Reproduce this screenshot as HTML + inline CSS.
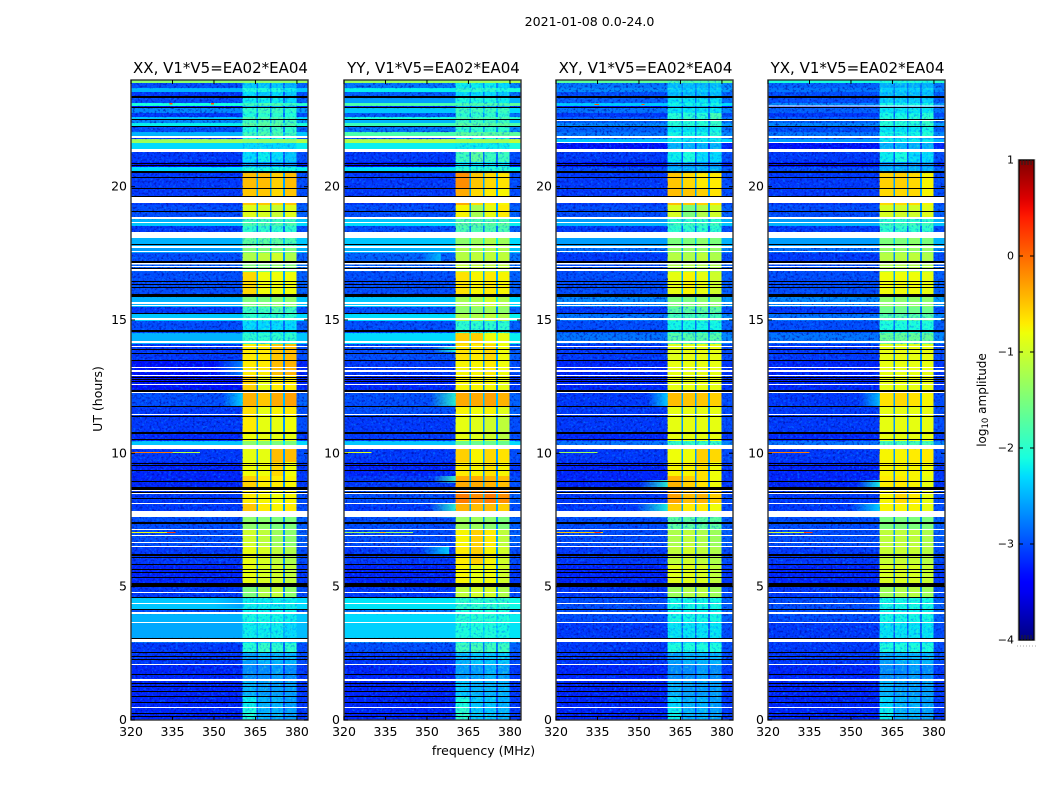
<!DOCTYPE html>
<html lang="en">
<head>
<meta charset="utf-8">
<title>2021-01-08 0.0-24.0</title>
<style>
html,body{margin:0;padding:0;background:#fff;width:1050px;height:800px;overflow:hidden}
svg{display:block}
text{font-family:"DejaVu Sans","Liberation Sans",sans-serif;fill:#000}
</style>
</head>
<body>
<svg id="chart" xmlns="http://www.w3.org/2000/svg" width="1050" height="800" viewBox="0 0 1050 800">
  <defs id="defs"></defs>
  <text x="589.5" y="26" font-size="12.6" text-anchor="middle">2021-01-08 0.0-24.0</text>
  <text x="483.5" y="755" font-size="12.5" text-anchor="middle">frequency (MHz)</text>
  <text transform="translate(102,399) rotate(-90)" font-size="12.5" text-anchor="middle">UT (hours)</text>
  <text transform="translate(986,400) rotate(-90)" font-size="12" text-anchor="middle">log<tspan font-size="8.5" dy="2">10</tspan><tspan dy="-2"> amplitude</tspan></text>
</svg>
<script>
// ---- axis data ----
const panelTitles = ["XX, V1*V5=EA02*EA04","YY, V1*V5=EA02*EA04","XY, V1*V5=EA02*EA04","YX, V1*V5=EA02*EA04"];
const freqTicks = [320,335,350,365,380];
const hourTicks = [0,5,10,15,20];
const colorTicks = [1,0,-1,-2,-3,-4];
const freqRange = [320,384];
const hourRange = [0,24];
const colorRange = [-4,1];
// receiver sub-band limits in MHz
const bandEdges = [[360.4,365.3],[365.9,370.2],[370.8,375],[375.7,379.9]];

// ---- time blocks: start hour (descending) of each block ----
const blockTops = [24,23.89,23.7,23.55,23.33,23.14,23.03,22.95,22.76,22.61,
22.5,22.39,22.24,22.05,21.9,21.79,21.64,21.41,21.3,20.93,
20.74,20.59,20.51,19.91,19.61,19.31,18.86,18.79,18.64,18.53,
18.3,18.08,17.78,17.51,17.14,16.8,15.86,15.49,15.23,14.96,
14.51,14.1,13.5,12.9,12.26,11.78,11.36,10.76,10.46,10.16,
9.68,9.15,8.66,8.14,7.61,7.13,6.53,5.85,5.14,4.58,
4.16,3.98,3.64,3.08,2.89,2.55,2.06,1.46,0.86,0.45];

// ---- log10 amplitude per block: [background, band1, band2, band3, band4] ----
const levelsXX = [
[-1.4,-1.4,-1.4,-1.4,-1.4],[-3,-2.4,-2.4,-2.4,-2.5],[-2.5,-2.1,-2.1,-2.1,-2.2],[-3.1,-2.3,-2.4,-2.3,-2.4],[-3,-2.2,-2.2,-2.2,-2.3],
[-2.1,-1.9,-1.8,-1.8,-1.9],[-3.3,-2.6,-2.6,-2.6,-2.6],[-2.7,-2,-1.9,-1.9,-2],[-3.1,-2.1,-2,-2,-2.1],[-2.4,-1.8,-1.8,-1.8,-1.9],
[-2.7,-1.9,-1.8,-1.8,-1.9],[-2.2,-1.7,-1.7,-1.7,-1.8],[-3,-2.1,-1.9,-1.9,-2],[-2.5,-1.9,-1.8,-1.8,-1.9],[-3.1,-2.2,-2.2,-2.2,-2.2],
[-1.3,-1.4,-1.4,-1.4,-1.4],[-2.3,-2.3,-2.3,-2.3,-2.3],[-2.3,-2.3,-2.3,-2.3,-2.3],[-3.1,-2.3,-2.2,-2.3,-2.4],[-3.3,-2.7,-2.7,-2.7,-2.7],
[-2.3,-2.1,-2.1,-2.1,-2.1],[-3.5,-2.9,-2.9,-2.9,-2.9],[-3.1,-0.45,-0.45,-0.55,-0.45],[-3.1,-0.5,-0.5,-0.6,-0.5],[-3.1,-0.5,-0.5,-0.6,-0.5],
[-3,-0.9,-0.95,-1.05,-0.9],[-3,-0.9,-0.95,-1.05,-0.9],[-2.5,-1.9,-1.9,-1.9,-1.9],[-2.4,-1.8,-1.8,-1.8,-1.8],[-3.1,-2,-2,-2,-2],
[-2.5,-1.7,-1.7,-1.7,-1.7],[-2.5,-1.7,-1.7,-1.7,-1.8],[-2.6,-1.5,-1.5,-1.5,-1.5],[-3,-1.2,-1.1,-1,-1.2],[-2.9,-1.5,-1.5,-1.4,-1.5],
[-3,-0.6,-0.8,-0.8,-0.8],[-2.5,-1.5,-1.5,-1.4,-1.4],[-3.1,-1.9,-1.9,-1.8,-1.9],[-2.4,-2,-2,-2,-2],[-3,-2.3,-2.3,-2.3,-2.3],
[-2.5,-2,-2,-2,-2],[-3.1,-0.7,-0.7,-0.5,-0.45],[-3.3,-0.7,-0.7,-0.45,-0.4],[-3.3,-0.55,-0.85,-0.7,-0.7],[-3,-0.4,-0.5,-0.35,-0.3],
[-3.1,-0.65,-0.85,-0.75,-0.7],[-3.1,-0.7,-0.85,-0.85,-0.8],[-3.2,-0.8,-0.85,-0.85,-0.85],[-2.4,-1.4,-1.4,-1.5,-1.5],[-3.1,-0.85,-0.85,-0.45,-0.45],
[-3.2,-0.8,-0.8,-0.6,-0.8],[-3.2,-0.55,-0.7,-0.7,-0.75],[-3.1,-0.7,-0.75,-0.8,-0.75],[-3.1,-0.5,-0.7,-0.75,-0.7],[-3,-1.4,-1.4,-1.5,-1.5],
[-3,-1,-1.1,-1.3,-1.4],[-3.1,-0.85,-0.95,-1.1,-1.2],[-3.2,-0.85,-0.95,-1,-1.1],[-3.1,-1.5,-1.2,-1.1,-1.4],[-2.4,-2.2,-2.2,-2.2,-2.2],
[-3,-2.2,-2.2,-2.2,-2.2],[-2.5,-2.15,-2.15,-2.15,-2.2],[-2.55,-2.2,-2.2,-2.2,-2.3],[-2.8,-2.3,-2.3,-2.3,-2.3],[-3.1,-2.05,-1.95,-2,-2],
[-3.1,-2.6,-2.5,-2.5,-2.5],[-3.2,-2.7,-2.7,-2.6,-2.7],[-3.2,-2.5,-2.6,-2.6,-2.6],[-3.2,-2.2,-2.5,-2.5,-2.6],[-3.2,-2.1,-2.5,-2.5,-2.6]];
const levelsYY = [
[-1.3,-1.3,-1.3,-1.3,-1.3],[-2.8,-2.2,-2.2,-2.2,-2.3],[-2.2,-2,-2,-2,-2.1],[-2.9,-2.3,-2.3,-2.3,-2.4],[-2.6,-2.1,-2.1,-2.1,-2.2],
[-1.8,-1.8,-1.8,-1.8,-1.8],[-3.2,-2.6,-2.6,-2.6,-2.6],[-2.4,-1.9,-1.9,-1.9,-1.9],[-2.9,-2,-2,-2,-2],[-2.1,-1.8,-1.8,-1.8,-1.8],
[-2.5,-1.9,-1.9,-1.9,-1.9],[-1.9,-1.7,-1.7,-1.7,-1.7],[-2.8,-2,-2,-2,-2],[-1.8,-1.7,-1.7,-1.7,-1.7],[-3,-2.2,-2.2,-2.2,-2.2],
[-1.2,-1.3,-1.3,-1.3,-1.3],[-2.2,-2.2,-2.2,-2.2,-2.2],[-2.2,-2.2,-2.2,-2.2,-2.2],[-3.1,-1.9,-1.7,-1.9,-1.9],[-3.3,-2.3,-2.3,-2.3,-2.3],
[-2.3,-2,-2,-2,-2],[-3.5,-2.9,-2.9,-2.9,-2.9],[-3.1,-0.2,-0.5,-0.6,-0.65],[-3.1,-0.35,-0.6,-0.7,-0.75],[-3.1,-0.35,-0.6,-0.7,-0.75],
[-3,-0.75,-1.25,-0.85,-0.7],[-3,-0.75,-1.25,-0.85,-0.7],[-2.4,-1.8,-1.8,-1.8,-1.8],[-2.3,-1.7,-1.7,-1.7,-1.7],[-3,-1.8,-1.8,-1.8,-1.8],
[-2.4,-1.4,-1.3,-1.2,-1.3],[-2.4,-1.4,-1.3,-1.2,-1.3],[-2.5,-1.2,-1.2,-1.2,-1.2],[-2.9,-1.15,-1.1,-1.1,-1.1],[-2.9,-1.1,-1.1,-1.1,-1.1],
[-3,-0.65,-0.75,-0.7,-0.75],[-2.4,-1.25,-1.2,-1,-1.2],[-3,-1.4,-1.4,-1.3,-1.4],[-2.3,-1.2,-1.2,-1.1,-1.2],[-3,-2,-2,-2,-2],
[-2.3,-0.55,-0.55,-0.8,-0.85],[-3,-0.65,-0.7,-0.6,-0.8],[-3.1,-0.75,-0.75,-0.7,-0.8],[-3.2,-0.75,-0.75,-0.75,-0.85],[-3,-0.35,-0.35,-0.3,-0.4],
[-3,-0.75,-0.8,-0.75,-0.9],[-3.1,-0.85,-0.9,-1,-1.1],[-3.1,-0.85,-0.9,-1,-1.15],[-2.4,-1.6,-1.6,-1.6,-1.6],[-3.1,-0.55,-0.75,-0.6,-0.65],
[-3.2,-0.7,-0.75,-0.65,-0.75],[-3.1,-0.35,-0.35,-0.4,-0.45],[-3,-0.1,-0.2,-0.1,-0.2],[-3.1,-0.4,-0.45,-0.45,-0.55],[-3,-1.3,-1.3,-1.4,-1.5],
[-3,-0.75,-0.55,-0.7,-1.1],[-3.1,-0.7,-0.55,-0.75,-1],[-3.2,-0.75,-0.85,-0.8,-1],[-3.1,-1.1,-1,-1,-1.2],[-2.25,-2,-2,-2,-2],
[-2.8,-2.1,-2.1,-2.1,-2.1],[-2.3,-2.05,-2.05,-2.05,-2.1],[-2.35,-2.1,-2.1,-2.1,-2.15],[-2.7,-2.2,-2.2,-2.2,-2.2],[-3,-1.9,-1.85,-1.9,-1.9],
[-3.1,-2.5,-2.4,-2.4,-2.4],[-3.2,-2.6,-2.6,-2.5,-2.6],[-3.2,-2.4,-2.5,-2.5,-2.5],[-3.2,-2.1,-2.4,-2.4,-2.5],[-3.2,-2,-2.4,-2.4,-2.5]];
const levelsXY = [
[-1.7,-1.8,-1.8,-1.8,-1.8],[-2.8,-2.45,-2.45,-2.45,-2.45],[-2.7,-2.35,-2.35,-2.35,-2.35],[-3,-2.45,-2.45,-2.45,-2.45],[-2.9,-2.25,-2.25,-2.25,-2.25],
[-2.4,-2.15,-2.15,-2.15,-2.15],[-3.3,-2.6,-2.6,-2.6,-2.6],[-2.8,-2.25,-2.25,-2.25,-2.25],[-3.1,-2.05,-2.05,-2.05,-1.85],[-2.9,-2.05,-1.95,-2.05,-1.85],
[-2.9,-2.05,-2.05,-2.05,-1.95],[-2.7,-2.05,-2.05,-2.05,-1.95],[-2.9,-2.25,-2.25,-2.25,-2.15],[-2.8,-2.15,-2.15,-2.15,-2.05],[-2.9,-2.35,-2.35,-2.35,-2.35],
[-2.4,-2.2,-2.2,-2.2,-2.2],[-3.3,-2.5,-2.5,-2.5,-2.5],[-3.2,-2.4,-2.4,-2.4,-2.4],[-3.1,-2.2,-2.1,-2.3,-2.3],[-3.3,-2.7,-2.7,-2.7,-2.7],
[-3,-2.5,-2.5,-2.5,-2.5],[-3.6,-3,-3,-3,-3],[-3.1,-0.5,-0.6,-0.7,-0.7],[-3.1,-0.45,-0.5,-0.55,-0.65],[-3.1,-0.45,-0.5,-0.55,-0.65],
[-3,-0.95,-1.5,-1.2,-1],[-3,-0.95,-1.5,-1.2,-1],[-2.6,-2,-2,-2,-2],[-2.5,-1.9,-1.9,-1.9,-1.9],[-3.1,-2,-2,-2,-2],
[-2.6,-1.5,-1.5,-1.4,-1.5],[-2.6,-1.5,-1.5,-1.4,-1.5],[-2.8,-1.35,-1.35,-1.35,-1.35],[-3.1,-1.15,-1.2,-1.1,-1.2],[-3,-1.2,-1.2,-1.2,-1.2],
[-3,-0.85,-0.75,-0.85,-1],[-2.7,-1.5,-1.5,-1.4,-1.4],[-3.1,-1.7,-1.7,-1.7,-1.7],[-2.8,-1.85,-1.85,-1.85,-1.85],[-3,-2.15,-2.15,-2.15,-2.15],
[-2.8,-1.75,-1.75,-1.75,-1.75],[-3.1,-0.9,-0.85,-0.85,-0.85],[-3.2,-0.85,-0.85,-0.85,-0.85],[-3.2,-0.85,-0.85,-0.85,-0.85],[-3.1,-0.45,-0.5,-0.5,-0.55],
[-3.1,-0.85,-0.85,-0.85,-0.85],[-3.1,-0.85,-0.85,-0.85,-0.85],[-3.2,-0.85,-0.85,-0.85,-0.85],[-2.8,-1.95,-1.95,-1.95,-1.95],[-3.1,-0.8,-0.8,-0.55,-0.6],
[-3.2,-0.75,-0.75,-0.65,-0.8],[-3.2,-0.4,-0.55,-0.65,-0.8],[-3.1,-0.3,-0.45,-0.4,-0.55],[-3.1,-0.55,-0.7,-0.7,-0.8],[-3,-1.7,-1.7,-1.7,-1.7],
[-3,-1.2,-1.1,-1.2,-1.3],[-3.1,-1.1,-1,-1.1,-1.2],[-3.2,-0.9,-0.9,-0.95,-1.1],[-3.1,-1.3,-1.2,-1.15,-1.3],[-3,-2.15,-2.15,-2.15,-2.15],
[-3,-2.2,-2.2,-2.2,-2.2],[-3,-2.15,-2.15,-2.15,-2.15],[-3.1,-2.25,-2.25,-2.25,-2.25],[-3.1,-2.35,-2.35,-2.35,-2.35],[-3.1,-2.1,-2.1,-2.1,-2.1],
[-3.1,-2.6,-2.5,-2.5,-2.5],[-3.2,-2.7,-2.7,-2.6,-2.7],[-3.2,-2.5,-2.6,-2.6,-2.6],[-3.2,-2.3,-2.5,-2.5,-2.6],[-3.2,-2.2,-2.5,-2.5,-2.6]];
const levelsYX = [
[-2.1,-2.1,-2.1,-2.1,-2.1],[-2.9,-2.5,-2.5,-2.5,-2.5],[-2.8,-2.35,-2.35,-2.35,-2.35],[-3,-2.45,-2.45,-2.45,-2.45],[-3,-2.35,-2.35,-2.35,-2.35],
[-2.7,-2.15,-2.15,-2.15,-2.15],[-3.3,-2.6,-2.6,-2.6,-2.6],[-2.9,-2.25,-2.25,-2.25,-2.25],[-3.1,-2.15,-2.15,-2.15,-2.05],[-2.9,-2.05,-2.05,-2.05,-1.95],
[-2.9,-2.05,-2.05,-2.05,-1.95],[-2.7,-2.05,-2.05,-2.05,-1.95],[-3,-2.25,-2.25,-2.25,-2.15],[-2.8,-2.15,-2.15,-2.15,-2.05],[-3,-2.35,-2.35,-2.35,-2.35],
[-2.6,-2.2,-2.2,-2.2,-2.2],[-3.3,-2.5,-2.5,-2.5,-2.5],[-3.2,-2.4,-2.4,-2.4,-2.4],[-3.1,-2.2,-2.1,-2.3,-2.3],[-3.3,-2.7,-2.7,-2.7,-2.7],
[-3,-2.5,-2.5,-2.5,-2.5],[-3.6,-3,-3,-3,-3],[-3.1,-0.55,-0.55,-0.6,-0.75],[-3.1,-0.6,-0.6,-0.6,-0.75],[-3.1,-0.6,-0.6,-0.6,-0.75],
[-3,-0.95,-1,-1,-0.9],[-3,-0.95,-1,-1,-0.9],[-2.6,-2,-2,-2,-2],[-2.5,-1.9,-1.9,-1.9,-1.9],[-3.1,-2,-2,-2,-2],
[-2.6,-1.5,-1.5,-1.4,-1.5],[-2.6,-1.5,-1.5,-1.4,-1.5],[-2.8,-1.35,-1.35,-1.35,-1.35],[-3.1,-1.15,-1.15,-1.1,-1.2],[-3,-1.2,-1.2,-1.2,-1.2],
[-3,-0.8,-0.8,-0.8,-0.85],[-2.7,-1.4,-1.4,-1.4,-1.4],[-3.1,-1.6,-1.6,-1.6,-1.6],[-2.8,-1.75,-1.75,-1.75,-1.75],[-3,-2.1,-2.1,-2.1,-2.1],
[-2.8,-1.65,-1.65,-1.65,-1.65],[-3.1,-0.85,-0.85,-0.85,-0.85],[-3.2,-0.85,-0.85,-0.85,-0.85],[-3.2,-0.85,-0.85,-0.85,-0.85],[-3.1,-0.65,-0.6,-0.65,-0.75],
[-3.1,-0.85,-0.85,-0.85,-0.85],[-3.1,-0.85,-0.85,-0.85,-0.85],[-3.2,-0.85,-0.85,-0.85,-0.85],[-2.8,-1.85,-1.85,-1.85,-1.85],[-3.1,-0.75,-0.75,-0.7,-0.7],
[-3.2,-0.75,-0.75,-0.75,-0.8],[-3.2,-0.7,-0.7,-0.75,-0.85],[-3.1,-0.75,-0.6,-0.7,-0.85],[-3.1,-0.75,-0.75,-0.75,-0.85],[-3,-1.5,-1.5,-1.5,-1.5],
[-3,-1.1,-1.1,-1.1,-1.2],[-3.1,-1.05,-1.05,-1.05,-1.15],[-3.2,-0.95,-0.95,-0.95,-1.05],[-3.1,-1.3,-1.2,-1.15,-1.3],[-3,-2.15,-2.15,-2.15,-2.15],
[-3,-2.2,-2.2,-2.2,-2.2],[-3,-2.15,-2.15,-2.15,-2.15],[-3.1,-2.25,-2.25,-2.25,-2.25],[-3.1,-2.35,-2.35,-2.35,-2.35],[-3.1,-2.1,-2.1,-2.1,-2.1],
[-3.1,-2.6,-2.5,-2.5,-2.5],[-3.2,-2.7,-2.7,-2.6,-2.7],[-3.2,-2.5,-2.6,-2.6,-2.6],[-3.2,-2.3,-2.5,-2.5,-2.6],[-3.2,-2.2,-2.5,-2.5,-2.6]];

// ---- rows flagged blank: [start hour, duration hours] ----
const flaggedRows = [[21.9,.08],[21.41,.11],[19.61,.23],[18.86,.08],[18.68,.04],[18.3,.23],[17.78,.08],[17.59,.04],[17.14,.06],[17.03,.04],
[16.91,.08],[15.68,.08],[15.56,.04],[15.08,.08],[14.21,.08],[14.03,.04],[13.24,.04],[13.13,.08],[12.94,.04],[12.6,.04],[12.3,.04],[11.48,.04],
[10.31,.15],[8.63,.04],[8.51,.04],[8.14,.04],[7.84,.23],[7.16,.04],[6.94,.04],[6.68,.04],[6.53,.04],[4.8,.04],[4.39,.04],[4.05,.08],[3.68,.04],
[3.04,.11],[2.1,.04],[1.54,.08],[.49,.04]];
const extraFlaggedXY = [[22.5,.04],[21.68,.04]];
const extraFlaggedYX = [[22.5,.04],[23.04,.04],[21.68,.04]];
// ---- rows with zero amplitude, start hour (one row = 0.0375 h) ----
const zeroRows = [23.4,23.36,22.99,22.54,22.28,20.89,20.81,20.59,20.55,20.36,19.95,19.65,19.09,17.85,17.21,17.18,16.95,16.46,16.35,16.24,
15.98,15.94,15.9,15.26,14.63,14.59,13.91,13.76,13.5,12.86,12.79,12.71,12.38,12.34,11.78,11.4,10.8,10.76,10.54,9.64,9.56,9.38,8.96,8.74,8.7,8.66,8.55,8.33,
7.43,7.39,6.23,6.19,6.11,5.85,5.66,5.55,5.36,5.14,5.1,5.06,5.03,4.61,4.16,3.08,2.55,2.4,2.29,1.73,1.39,1.28,1.09,.9,.68,.26,.15];

// ---- narrow-band interference: [hour, start MHz, end MHz, level] ----
const spikesXX = [[10.05,320,335,-.1],[10.05,335,345,-1.1],[7.05,320,335,-.8],[7.05,333,336,.2],[23.13,334,335,.1],[23.13,349,350,.1]];
const spikesYY = [[10.05,320,330,-.9],[7.05,320,345,-1.3],[7.05,333,335,-.5]];
const spikesXY = [[10.05,321,335,-1.3],[7.05,320,337,-.5],[7.05,334,336,.3],[23.1,334,335.5,.1],[23.1,351,352,.1]];
const spikesYX = [[10.05,320,335,-.1],[7.05,320,334,-1],[7.05,333,336,.2]];
// ---- soft emission next to the bands: [start hour, end hour, start MHz, end MHz, level] ----
const glowsXX = [[12.26,11.78,353,360.4,-2.3],[13.5,12.9,350,360.4,-2.7],[4.58,4.2,350,360.4,-2.6]];
const glowsYY = [[12.26,11.78,351,360.4,-2],[8.14,7.6,351,360.4,-2],[9.15,8.9,352,360.4,-1.9],[17.5,17.2,348,355,-2.4],[6.5,6.2,348,358,-2.3],[14,13.8,352,360.4,-2.1]];
const glowsXY = [[12.26,11.78,353,360.4,-2.3],[8.14,7.6,349,360.4,-2.1],[9,8.7,350,360.4,-2]];
const glowsYX = [[12.26,11.78,353,360.4,-2.4],[8.14,7.6,350,360.4,-2.3],[9,8.7,352,360.4,-2.1]];

const panelLevels = [levelsXX,levelsYY,levelsXY,levelsYX];
const panelSpikes = [spikesXX,spikesYY,spikesXY,spikesYX];
const panelGlows = [glowsXX,glowsYY,glowsXY,glowsYX];
const panelExtraFlags = [[],[],extraFlaggedXY,extraFlaggedYX];
const panelNames = ["xx","yy","xy","yx"];
const panelLeft = [131,344,556,768];

// ---- scales ----
const NS = "http://www.w3.org/2000/svg";
const svg = document.getElementById("chart");
const defs = document.getElementById("defs");
const plotW = 177, plotTop = 80, plotBottom = 720;
function xScale(left, mhz){ return left + (mhz-freqRange[0])/(freqRange[1]-freqRange[0])*plotW; }
function yScale(h){ return plotBottom - (h-hourRange[0])/(hourRange[1]-hourRange[0])*(plotBottom-plotTop); }
function seg(f,pts){ for(let i=1;i<pts.length;i++){ if(f<=pts[i][0]){ const a=pts[i-1],b=pts[i]; return a[1]+(f-a[0])/(b[0]-a[0])*(b[1]-a[1]); } } return pts[pts.length-1][1]; }
function jet(v){
  const f=Math.max(0,Math.min(1,(v-colorRange[0])/(colorRange[1]-colorRange[0])));
  const r=seg(f,[[0,0],[.35,0],[.66,1],[.89,1],[1,.5]]);
  const g=seg(f,[[0,0],[.125,0],[.375,1],[.64,1],[.91,0],[1,0]]);
  const b=seg(f,[[0,.5],[.11,1],[.34,1],[.65,0],[1,0]]);
  return "rgb("+Math.round(r*255)+","+Math.round(g*255)+","+Math.round(b*255)+")";
}
function rect(parent,name,x,y,w,h,fill){
  const el=document.createElementNS(NS,"rect");
  
  
  el.setAttribute("x",x); el.setAttribute("y",y); el.setAttribute("width",w); el.setAttribute("height",h);
  el.setAttribute("fill",fill);
  parent.appendChild(el);
  return el;
}
function line(parent,name,x1,y1,x2,y2,stroke,sw){
  const el=document.createElementNS(NS,"line");
  
  
  el.setAttribute("x1",x1); el.setAttribute("y1",y1); el.setAttribute("x2",x2); el.setAttribute("y2",y2);
  el.setAttribute("stroke",stroke); el.setAttribute("stroke-width",sw);
  parent.appendChild(el);
  return el;
}
function label(parent,name,x,y,str,size,anchor){
  const el=document.createElementNS(NS,"text");
  
  
  el.setAttribute("x",x); el.setAttribute("y",y); el.setAttribute("font-size",size); el.setAttribute("text-anchor",anchor);
  el.textContent=str;
  parent.appendChild(el);
  return el;
}
function group(parent,name){
  const el=document.createElementNS(NS,"g");
  
  
  parent.appendChild(el);
  return el;
}

// receiver-noise texture (visual grain only, values come from the arrays above)
function addGrain(id,seed,matrix){
  const f=document.createElementNS(NS,"filter");
  f.setAttribute("id",id); f.setAttribute("x","0"); f.setAttribute("y","0"); f.setAttribute("width","1"); f.setAttribute("height","1");
  f.setAttribute("color-interpolation-filters","sRGB");
  const t=document.createElementNS(NS,"feTurbulence");
  t.setAttribute("type","fractalNoise"); t.setAttribute("baseFrequency","0.42"); t.setAttribute("numOctaves","2"); t.setAttribute("seed",seed);
  const m=document.createElementNS(NS,"feColorMatrix");
  m.setAttribute("type","matrix"); m.setAttribute("values",matrix);
  f.appendChild(t); f.appendChild(m); defs.appendChild(f);
}
function grainRect(parent,name,clipId,filterId,x,w,opacity){
  const wrap=group(parent,name+"-clip");
  wrap.setAttribute("clip-path","url(#"+clipId+")");
  const r=rect(wrap,name,x,plotTop,w,plotBottom-plotTop,"#000");
  r.setAttribute("filter","url(#"+filterId+")");
  r.setAttribute("opacity",opacity);
}

panelTitles.forEach(function(title,p){
  const left=panelLeft[p], levels=panelLevels[p], nm=panelNames[p];
  const g=group(svg,"panel-"+nm);
  const cells=group(g,"heatmap-"+nm);
  cells.setAttribute("shape-rendering","crispEdges");
  const clipBg=document.createElementNS(NS,"clipPath");
  clipBg.setAttribute("id","clip-bg-"+nm);
  const clipBand=document.createElementNS(NS,"clipPath");
  clipBand.setAttribute("id","clip-band-"+nm);
  levels.forEach(function(lv,i){
    const yTop=yScale(blockTops[i]);
    const yBot=i+1<blockTops.length?yScale(blockTops[i+1]):plotBottom;
    const h=yBot-yTop+.3;
    const bg=lv[0];
    rect(cells,"heatmap-cell",left,yTop,plotW,h,jet(bg));
    const mean=(lv[1]+lv[2]+lv[3]+lv[4])/4;
    const gapLevel=bg+.2*(mean-bg);
    rect(cells,"heatmap-cell",xScale(left,bandEdges[0][1]),yTop,xScale(left,bandEdges[3][1])-xScale(left,bandEdges[0][1]),h,jet(gapLevel));
    rect(cells,"heatmap-cell",xScale(left,bandEdges[3][1]),yTop,xScale(left,freqRange[1])-xScale(left,bandEdges[3][1]),h,jet(bg+.1));
    bandEdges.forEach(function(b,k){
      rect(cells,"heatmap-cell",xScale(left,b[0]),yTop,xScale(left,b[1])-xScale(left,b[0]),h,jet(lv[k+1]));
    });
    if(bg<-2.6){
      const c=document.createElementNS(NS,"rect");
      c.setAttribute("x",left); c.setAttribute("y",yTop); c.setAttribute("width",plotW); c.setAttribute("height",h);
      clipBg.appendChild(c);
    }
    if(mean<-1.6){
      const c=document.createElementNS(NS,"rect");
      c.setAttribute("x",left); c.setAttribute("y",yTop); c.setAttribute("width",plotW); c.setAttribute("height",h);
      clipBand.appendChild(c);
    }
  });
  defs.appendChild(clipBg);
  defs.appendChild(clipBand);
  // grain
  const lightId="grain-light-"+nm, darkId="grain-dark-"+nm, bandLightId="grain-band-light-"+nm, bandDarkId="grain-band-dark-"+nm;
  addGrain(lightId,p*3+2,"0 0 0 0 0  0 0 0 0 .55  0 0 0 0 1  3.5 0 0 0 -1.85");
  addGrain(darkId,p*3+5,"0 0 0 0 0  0 0 0 0 .05  0 0 0 0 .65  3.5 0 0 0 -1.75");
  addGrain(bandLightId,p*3+7,"0 0 0 0 .35  0 0 0 0 1  0 0 0 0 .65  3.5 0 0 0 -1.85");
  addGrain(bandDarkId,p*3+9,"0 0 0 0 0  0 0 0 0 .4  0 0 0 0 1  3.5 0 0 0 -1.75");
  const grain=group(g,"noise-grain-"+nm);
  const bgW=xScale(left,bandEdges[0][0])-left;
  const bandX=xScale(left,bandEdges[0][0]), bandW=xScale(left,bandEdges[3][1])-bandX;
  const rightX=xScale(left,bandEdges[3][1]), rightW=xScale(left,freqRange[1])-rightX;
  grainRect(grain,"noise-grain-light","clip-bg-"+nm,lightId,left,bgW,".6");
  grainRect(grain,"noise-grain-dark","clip-bg-"+nm,darkId,left,bgW,".7");
  grainRect(grain,"noise-grain-right","clip-bg-"+nm,lightId,rightX,rightW,".5");
  grainRect(grain,"noise-grain-right-dark","clip-bg-"+nm,darkId,rightX,rightW,".6");
  grainRect(grain,"noise-grain-band-light","clip-band-"+nm,bandLightId,bandX,bandW,".45");
  grainRect(grain,"noise-grain-band-dark","clip-band-"+nm,bandDarkId,bandX,bandW,".5");
  // glows fading in toward the band
  panelGlows[p].forEach(function(s,i){
    const gid="glow-"+nm+"-"+i;
    const lg=document.createElementNS(NS,"linearGradient");
    lg.setAttribute("id",gid);
    const s0=document.createElementNS(NS,"stop");
    s0.setAttribute("offset","0"); s0.setAttribute("stop-color",jet(s[4])); s0.setAttribute("stop-opacity","0");
    const s1=document.createElementNS(NS,"stop");
    s1.setAttribute("offset","1"); s1.setAttribute("stop-color",jet(s[4])); s1.setAttribute("stop-opacity",".9");
    lg.appendChild(s0); lg.appendChild(s1); defs.appendChild(lg);
    rect(g,"glow-"+nm,xScale(left,s[2]),yScale(s[0]),xScale(left,s[3])-xScale(left,s[2]),yScale(s[1])-yScale(s[0]),"url(#"+gid+")");
  });
  // spikes, zero rows, flagged rows
  const rows=group(g,"row-overlays-"+nm);
  rows.setAttribute("shape-rendering","crispEdges");
  panelSpikes[p].forEach(function(s){
    rect(rows,"interference-line",xScale(left,s[1]),yScale(s[0]),xScale(left,s[2])-xScale(left,s[1]),1.2,jet(s[3]));
  });
  zeroRows.forEach(function(h){
    rect(rows,"zero-row",left,yScale(h),plotW,1,"#000");
  });
  flaggedRows.concat(panelExtraFlags[p]).forEach(function(r){
    rect(rows,"flagged-row",left,yScale(r[0]),plotW,r[1]*(plotBottom-plotTop)/24,"#fff");
  });
  // frame
  const frame=rect(g,"plot-frame-"+nm,left,plotTop,plotW,plotBottom-plotTop,"none");
  frame.setAttribute("stroke","#333");
  frame.setAttribute("stroke-width","1.4");
  // ticks
  freqTicks.forEach(function(f){
    const x=xScale(left,f);
    line(g,"x-tick",x,plotBottom,x,plotBottom-4,"#000",1);
    line(g,"x-tick",x,plotTop,x,plotTop+4,"#000",1);
    label(g,"x-tick-label",x,736,String(f),12.5,"middle");
  });
  hourTicks.forEach(function(h){
    const y=yScale(h);
    line(g,"y-tick",left,y,left+4,y,"#000",1);
    line(g,"y-tick",left+plotW,y,left+plotW-4,y,"#000",1);
    label(g,"y-tick-label",left-4,y+4,String(h),12.5,"end");
  });
  label(g,"panel-title-"+nm,left+89.5,73,title,15,"middle");
});

// ---- colour bar ----
const cbX=1019, cbW=15, cbTop=160, cbBottom=640;
function cbY(v){ return cbBottom-(v-colorRange[0])/(colorRange[1]-colorRange[0])*(cbBottom-cbTop); }
const grad=document.createElementNS(NS,"linearGradient");
grad.setAttribute("id","jet-grad"); grad.setAttribute("x1","0"); grad.setAttribute("y1","1"); grad.setAttribute("x2","0"); grad.setAttribute("y2","0");
for(let i=0;i<=50;i++){
  const st=document.createElementNS(NS,"stop");
  st.setAttribute("offset",i/50);
  st.setAttribute("stop-color",jet(colorRange[0]+(colorRange[1]-colorRange[0])*i/50));
  grad.appendChild(st);
}
defs.appendChild(grad);
const cb=group(svg,"colorbar");
const halo=rect(cb,"colorbar-edge",cbX-1,cbTop-.5,cbW+2,cbBottom-cbTop+1,"none");
halo.setAttribute("stroke","#c4c4c4");
halo.setAttribute("stroke-width","1");
const bar=rect(cb,"colorbar-ramp",cbX,cbTop,cbW,cbBottom-cbTop,"url(#jet-grad)");
bar.setAttribute("stroke","#000");
bar.setAttribute("stroke-width","1.2");
colorTicks.forEach(function(v){
  const y=cbY(v);
  if(v<colorRange[1]&&v>colorRange[0]){
    line(cb,"colorbar-tick",cbX,y,cbX+4,y,"#000",1);
    line(cb,"colorbar-tick",cbX+cbW,y,cbX+cbW-4,y,"#000",1);
  }
  const s=v<0?"\u2212"+Math.abs(v):String(v);
  label(cb,"colorbar-tick-label",1014,y+3.5,s,11,"end");
});
[3,6,9,12].forEach(function(dx){
  line(cb,"colorbar-minor-tick",cbX+dx,cbTop,cbX+dx,cbTop+5,"#222",1);
  line(cb,"colorbar-minor-tick",cbX+dx,cbBottom,cbX+dx,cbBottom-5,"#222",1);
});
[0,3,6,9,12,15,18].forEach(function(dx){
  rect(cb,"colorbar-offset-dot",1017+dx,645.5,1,1,"#aaa");
});
</script>
</body>
</html>
